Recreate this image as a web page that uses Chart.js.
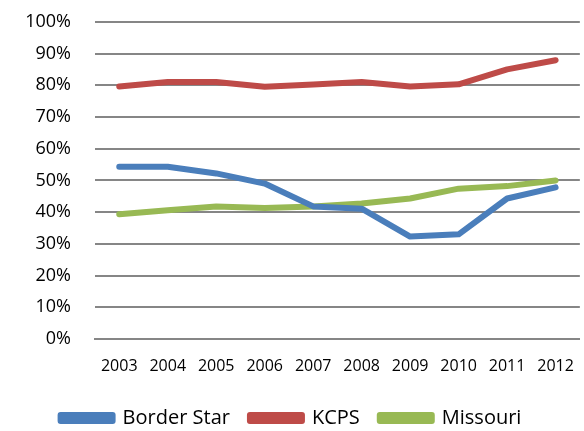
<!DOCTYPE html>
<html>
<head>
<meta charset="utf-8">
<script src="https://cdn.jsdelivr.net/npm/chart.js@4"></script>
<style>
  html, body { margin: 0; padding: 0; background: #fff; }
  #wrap { width: 584px; height: 431px; }
</style>
</head>
<body>
<div id="wrap"><canvas id="chart" width="584" height="431"></canvas></div>
<script>
const years = ['2003', '2004', '2005', '2006', '2007', '2008', '2009', '2010', '2011', '2012'];
const borderStar = [54.3, 54.3, 52.2, 49.0, 41.8, 41.1, 32.3, 33.0, 44.3, 47.8];
const kcps = [79.6, 81.0, 81.0, 79.5, 80.2, 81.0, 79.6, 80.3, 85.0, 87.9];
const missouri = [39.3, 40.6, 41.8, 41.3, 41.8, 42.7, 44.3, 47.4, 48.2, 50.0];

const fontFamily = "'Open Sans', 'Liberation Sans', sans-serif";

function series(label, data, color) {
    return {
        label: label,
        data: data,
        borderColor: color,
        backgroundColor: color,
        borderWidth: 6,
        pointRadius: 0,
        tension: 0,
        borderCapStyle: 'round',
        borderJoinStyle: 'round'
    };
}

new Chart(document.getElementById('chart'), {
    type: 'line',
    data: {
        labels: years,
        datasets: [
            series('Border Star', borderStar, '#4a7ebb'),
            series('KCPS', kcps, '#be4b48'),
            series('Missouri', missouri, '#98b954')
        ]
    },
    options: {
        responsive: false,
        animation: false,
        layout: { padding: { left: 0, right: 2, top: 0, bottom: -7 } },
        plugins: {
            legend: {
                position: 'bottom',
                labels: {
                    boxWidth: 52,
                    boxHeight: 6,
                    padding: 20,
                    color: '#000',
                    font: { family: fontFamily, size: 20 }
                }
            },
            tooltip: { enabled: false }
        },
        scales: {
            x: {
                offset: true,
                grid: { display: false },
                border: { color: '#868686', width: 2 },
                ticks: {
                    color: '#000',
                    font: { family: fontFamily, size: 16 },
                    maxRotation: 0,
                    autoSkip: false,
                    padding: 10
                },
                afterFit: scale => { scale.height = 49; }
            },
            y: {
                min: 0,
                max: 100,
                // ticks drawn invisible so the labels sit away from the gridlines
                grid: { color: '#868686', lineWidth: 2, tickLength: 13, tickColor: 'rgba(0,0,0,0)' },
                border: { display: false },
                ticks: {
                    stepSize: 10,
                    color: '#000',
                    padding: 11,
                    font: { family: fontFamily, size: 18 },
                    callback: v => v + '%'
                },
                afterFit: scale => { scale.width = 95; }
            }
        }
    }
});
</script>
</body>
</html>
